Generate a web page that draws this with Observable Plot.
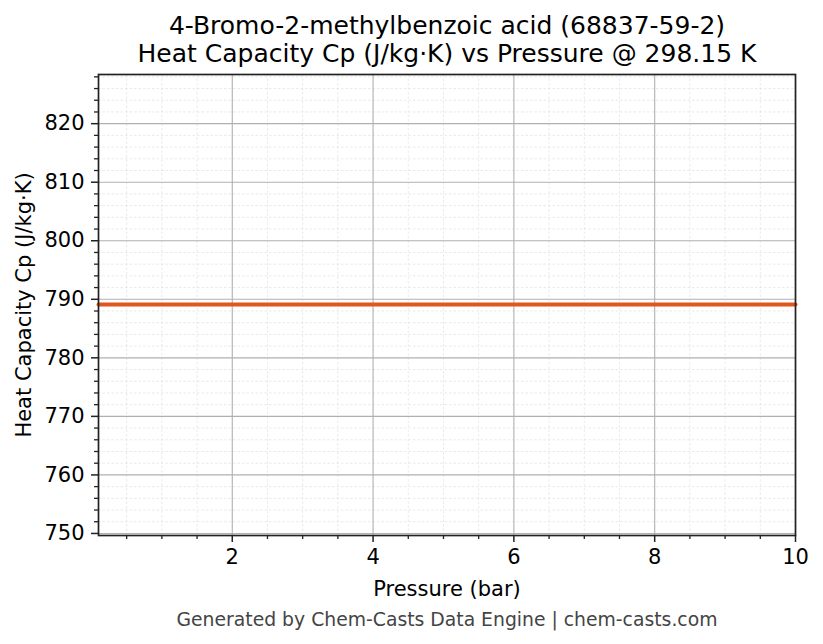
<!DOCTYPE html>
<html>
<head>
<meta charset="utf-8">
<script src="https://cdn.jsdelivr.net/npm/d3@7"></script>
<script src="https://cdn.jsdelivr.net/npm/@observablehq/plot@0.6"></script>
<style>
  html, body { margin: 0; padding: 0; background: #fff; }
  body { width: 823px; height: 644px; position: relative; overflow: hidden; font-family: "DejaVu Sans", sans-serif; }
  #title { position: absolute; left: 71px; width: 752px; top: 12px; text-align: center; font-size: 25px; line-height: 28px; color: #000; }
  #chart { position: absolute; left: 0; top: 68px; }
  #caption { position: absolute; left: 71px; width: 752px; top: 608px; text-align: center; font-size: 18.8px; line-height: 24px; color: #444; }
</style>
</head>
<body>
<div id="title">4-Bromo-2-methylbenzoic acid (68837-59-2)<br>Heat Capacity Cp (J/kg·K) vs Pressure @ 298.15 K</div>
<div id="chart"></div>
<div id="caption">Generated by Chem-Casts Data Engine | chem-casts.com</div>
<script>
// Data
const pressure = [0.1, 1, 2, 3, 4, 5, 6, 7, 8, 9, 10];
const heatCapacity = [789.1, 789.1, 789.1, 789.1, 789.1, 789.1, 789.1, 789.1, 789.1, 789.1, 789.1];
const xMajorTicks = [2, 4, 6, 8, 10];
const xMinorTicks = [0.5, 1, 1.5, 2.5, 3, 3.5, 4.5, 5, 5.5, 6.5, 7, 7.5, 8.5, 9, 9.5];
const yMajorTicks = [750, 760, 770, 780, 790, 800, 810, 820];
const yMinorTicks = [752, 754, 756, 758, 762, 764, 766, 768, 772, 774, 776, 778, 782, 784, 786, 788, 792, 794, 796, 798, 802, 804, 806, 808, 812, 814, 816, 818, 822, 824, 826, 828];
const xDomain = [0.1, 10];
const yDomain = [749.65, 828.4];

const data = pressure.map((p, i) => ({p, cp: heatCapacity[i]}));

const chart = Plot.plot({
  width: 823,
  height: 532,
  marginLeft: 98,
  marginRight: 28,
  marginTop: 6,
  marginBottom: 65,
  style: { fontFamily: "DejaVu Sans, sans-serif", fontSize: "21px", color: "#000", background: "#fff" },
  x: { domain: xDomain },
  y: { domain: yDomain },
  marks: [
    Plot.gridX(xMinorTicks, { stroke: "#dcdcdc", strokeOpacity: 1, strokeWidth: 0.6, strokeDasharray: "2.5,2" }),
    Plot.gridY(yMinorTicks, { stroke: "#dcdcdc", strokeOpacity: 1, strokeWidth: 0.6, strokeDasharray: "2.5,2" }),
    Plot.gridX(xMajorTicks, { stroke: "#b0b0b0", strokeOpacity: 1, strokeWidth: 1.1 }),
    Plot.gridY(yMajorTicks, { stroke: "#b0b0b0", strokeOpacity: 1, strokeWidth: 1.1 }),
    Plot.line(data, { x: "p", y: "cp", stroke: "#e0561f", strokeWidth: 4 }),
    Plot.axisX(xMinorTicks, { tickSize: 4, tickFormat: null, label: null, text: null, strokeWidth: 1.3, stroke: "#222" }),
    Plot.axisY(yMinorTicks, { tickSize: 4, tickFormat: null, label: null, text: null, strokeWidth: 1.3, stroke: "#222" }),
    Plot.axisX(xMajorTicks, { tickSize: 7, tickPadding: 7, strokeWidth: 1.5, stroke: "#222", fontSize: 21, label: "Pressure (bar)", labelAnchor: "center", labelArrow: "none", labelOffset: 60 }),
    Plot.axisY(yMajorTicks, { tickSize: 7, tickPadding: 7, strokeWidth: 1.5, stroke: "#222", fontSize: 21, label: "Heat Capacity Cp (J/kg·K)", labelAnchor: "center", labelArrow: "none", labelOffset: 82 }),
    Plot.frame({ stroke: "#222", strokeWidth: 1.7 })
  ]
});
document.getElementById("chart").appendChild(chart);
</script>
</body>
</html>
